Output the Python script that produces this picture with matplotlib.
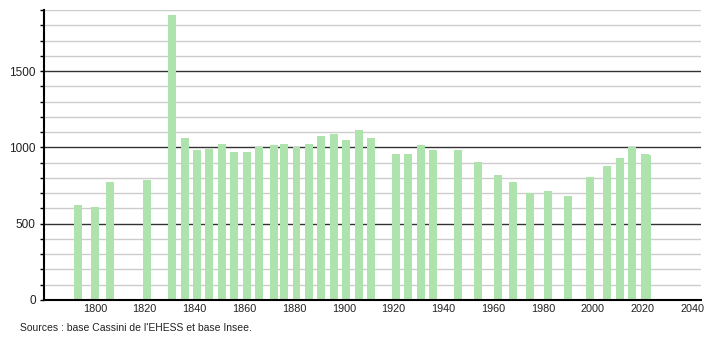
import matplotlib
matplotlib.use("Agg")
import matplotlib.pyplot as plt
from matplotlib.ticker import MultipleLocator

years = [1793, 1800, 1806, 1821, 1831, 1836, 1841, 1846, 1851, 1856, 1861, 1866,
         1872, 1876, 1881, 1886, 1891, 1896, 1901, 1906, 1911, 1921, 1926, 1931,
         1936, 1946, 1954, 1962, 1968, 1975, 1982, 1990, 1999, 2006, 2011, 2016,
         2021, 2022]
population = [625, 612, 776, 783, 1864, 1059, 980, 987, 1020, 967, 968, 1000,
              1013, 1020, 1000, 1020, 1072, 1085, 1046, 1112, 1059, 954, 955, 1013,
              980, 980, 901, 822, 776, 704, 717, 684, 803, 875, 928, 1000,
              955, 948]
y_tick_labels = ["0", "500", "1000", "1500"]
x_tick_years = list(range(1800, 2041, 20))
source_text = "Sources : base Cassini de l'EHESS et base Insee."

plt.rcParams['font.family'] = ['Liberation Sans', 'DejaVu Sans']
fig = plt.figure(figsize=(7.1, 3.4), dpi=100)
ax = fig.add_axes([44 / 710, 40 / 340, (701 - 44) / 710, (300 - 10) / 340])

ax.bar(years, population, width=3.2, color="#aee3ae", zorder=3, align="center")

ax.set_xlim(1779.5, 2043.6)
ax.set_ylim(0, 1900)

# grid lines
for v in range(100, 1901, 100):
    if v % 500 == 0:
        ax.axhline(v, color="#333333", lw=1.0, zorder=2)
    else:
        ax.axhline(v, color="#cccccc", lw=1.0, zorder=1)

ax.set_yticks([0, 500, 1000, 1500])
ax.set_yticklabels(y_tick_labels)
ax.yaxis.set_minor_locator(MultipleLocator(100))
ax.tick_params(axis="y", which="both", direction="out", length=3, width=1,
               color="black", labelsize=8.5, labelcolor="#222222", pad=3)
ax.set_xticks(x_tick_years)
ax.set_xticklabels([str(y) for y in x_tick_years])
ax.tick_params(axis="x", which="both", length=0, labelsize=7.8, labelcolor="#222222", pad=3)

for s in ["top", "right"]:
    ax.spines[s].set_visible(False)
ax.spines["left"].set_linewidth(1.5)
ax.spines["bottom"].set_linewidth(1.5)
ax.spines["left"].set_zorder(4)
ax.spines["bottom"].set_zorder(4)

fig.text(20 / 710, 1 - 328 / 340, source_text, fontsize=7.5, color="#222222",
         ha="left", va="center")

fig.savefig("out.png", dpi=100)
